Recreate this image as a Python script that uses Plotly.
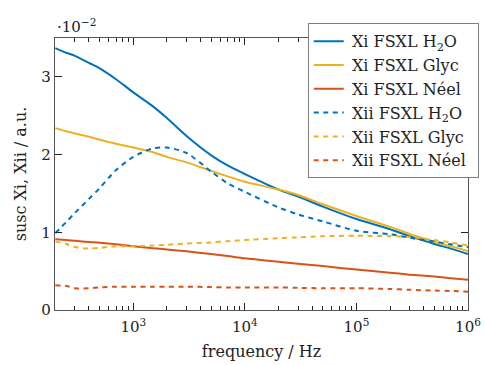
import plotly.graph_objects as go

# frequency grid (Hz)
freq = [200, 250, 300, 400, 500, 700, 1e3, 1.5e3, 2e3, 3e3, 5e3, 7e3,
        1e4, 2e4, 3e4, 5e4, 1e5, 2e5, 3e5, 5e5, 7e5, 1e6]

# susceptibilities in units of 1e-2 a.u.
xi_h2o = [3.37, 3.31, 3.27, 3.18, 3.11, 2.97, 2.80, 2.62, 2.47, 2.24, 1.99, 1.86,
          1.75, 1.55, 1.46, 1.33, 1.17, 1.04, 0.95, 0.85, 0.79, 0.72]
xi_glyc = [2.34, 2.30, 2.27, 2.23, 2.19, 2.14, 2.09, 2.03, 1.97, 1.90, 1.79, 1.72,
           1.65, 1.55, 1.48, 1.36, 1.21, 1.07, 0.98, 0.88, 0.82, 0.76]
xi_neel = [0.91, 0.90, 0.89, 0.875, 0.865, 0.845, 0.82, 0.795, 0.78, 0.755, 0.72, 0.695,
           0.665, 0.62, 0.595, 0.565, 0.52, 0.48, 0.455, 0.43, 0.41, 0.39]
xii_h2o = [0.99, 1.13, 1.25, 1.43, 1.57, 1.80, 1.97, 2.08, 2.09, 2.02, 1.78, 1.63,
           1.52, 1.32, 1.23, 1.14, 1.02, 0.975, 0.93, 0.88, 0.845, 0.81]
xii_glyc = [0.88, 0.85, 0.81, 0.79, 0.80, 0.82, 0.82, 0.83, 0.84, 0.855, 0.87, 0.885,
            0.90, 0.925, 0.935, 0.95, 0.955, 0.95, 0.94, 0.90, 0.87, 0.83]
xii_neel = [0.32, 0.31, 0.28, 0.28, 0.29, 0.30, 0.30, 0.30, 0.30, 0.30, 0.295, 0.29,
            0.29, 0.29, 0.285, 0.28, 0.28, 0.27, 0.26, 0.25, 0.245, 0.235]

names = ["Xi FSXL H<sub>2</sub>O", "Xi FSXL Glyc", "Xi FSXL Néel",
         "Xii FSXL H<sub>2</sub>O", "Xii FSXL Glyc", "Xii FSXL Néel"]
series = [xi_h2o, xi_glyc, xi_neel, xii_h2o, xii_glyc, xii_neel]
colors = ["#0072BD", "#EDB120", "#D95319", "#0072BD", "#EDB120", "#D95319"]
dashes = ["solid", "solid", "solid", "5px,4.5px", "5px,4.5px", "5px,4.5px"]

xticks = [1e3, 1e4, 1e5, 1e6]
xticktext = ["10<sup>3</sup>", "10<sup>4</sup>", "10<sup>5</sup>", "10<sup>6</sup>"]
yticks = [0, 1, 2, 3]

FONT = "DejaVu Serif, serif"
TXT = "#222222"
PAD = "\u2009"

fig = go.Figure()
for name, ys, c, d in zip(names, series, colors, dashes):
    fig.add_trace(go.Scatter(x=freq, y=ys, mode="lines", name=PAD + name + PAD + PAD,
                             line=dict(color=c, width=2, dash=d, shape="spline", smoothing=0.8)))

minor_vals = []
for dec in [100, 1000, 10000, 100000]:
    for k in range(2, 10):
        v = k * dec
        if 200 <= v <= 1e6:
            minor_vals.append(v)

axis_common = dict(showline=True, linecolor="#555555", linewidth=1.3, mirror="ticks",
                   ticks="inside", tickcolor="#222222", ticklen=7, tickwidth=1,
                   showgrid=False, zeroline=False, automargin=False,
                   tickfont=dict(family=FONT, size=15, color=TXT))

fig.update_xaxes(type="log", range=[2.298, 6], tickvals=xticks, ticktext=xticktext,
                 ticklabelstandoff=3,
                 minor=dict(ticks="inside", ticklen=4, tickvals=minor_vals,
                            tickcolor="#222222", showgrid=False),
                 title=dict(text="frequency / Hz", font=dict(family=FONT, size=16, color=TXT),
                            standoff=10),
                 **axis_common)
fig.update_yaxes(range=[0, 3.5], tickvals=yticks,
                 title=dict(text="susc Xi, Xii / a.u.", font=dict(family=FONT, size=16, color=TXT),
                            standoff=10),
                 **axis_common)

fig.add_annotation(text="·10<sup>−2</sup>", xref="paper", yref="paper", x=0.0, y=1.0,
                   xanchor="left", yanchor="bottom", showarrow=False,
                   font=dict(family=FONT, size=15, color=TXT))

fig.update_layout(width=485, height=365,
                  margin=dict(l=55, r=17, t=38, b=55, autoexpand=False),
                  paper_bgcolor="white", plot_bgcolor="white",
                  font=dict(family=FONT, size=16, color=TXT),
                  legend=dict(x=0.612, y=1.054, xanchor="left", yanchor="top",
                              bgcolor="white", bordercolor="#7f7f7f", borderwidth=1,
                              font=dict(family=FONT, size=16, color=TXT),
                              tracegroupgap=0, itemwidth=30),
                  showlegend=True)

fig.write_html("out.html")
